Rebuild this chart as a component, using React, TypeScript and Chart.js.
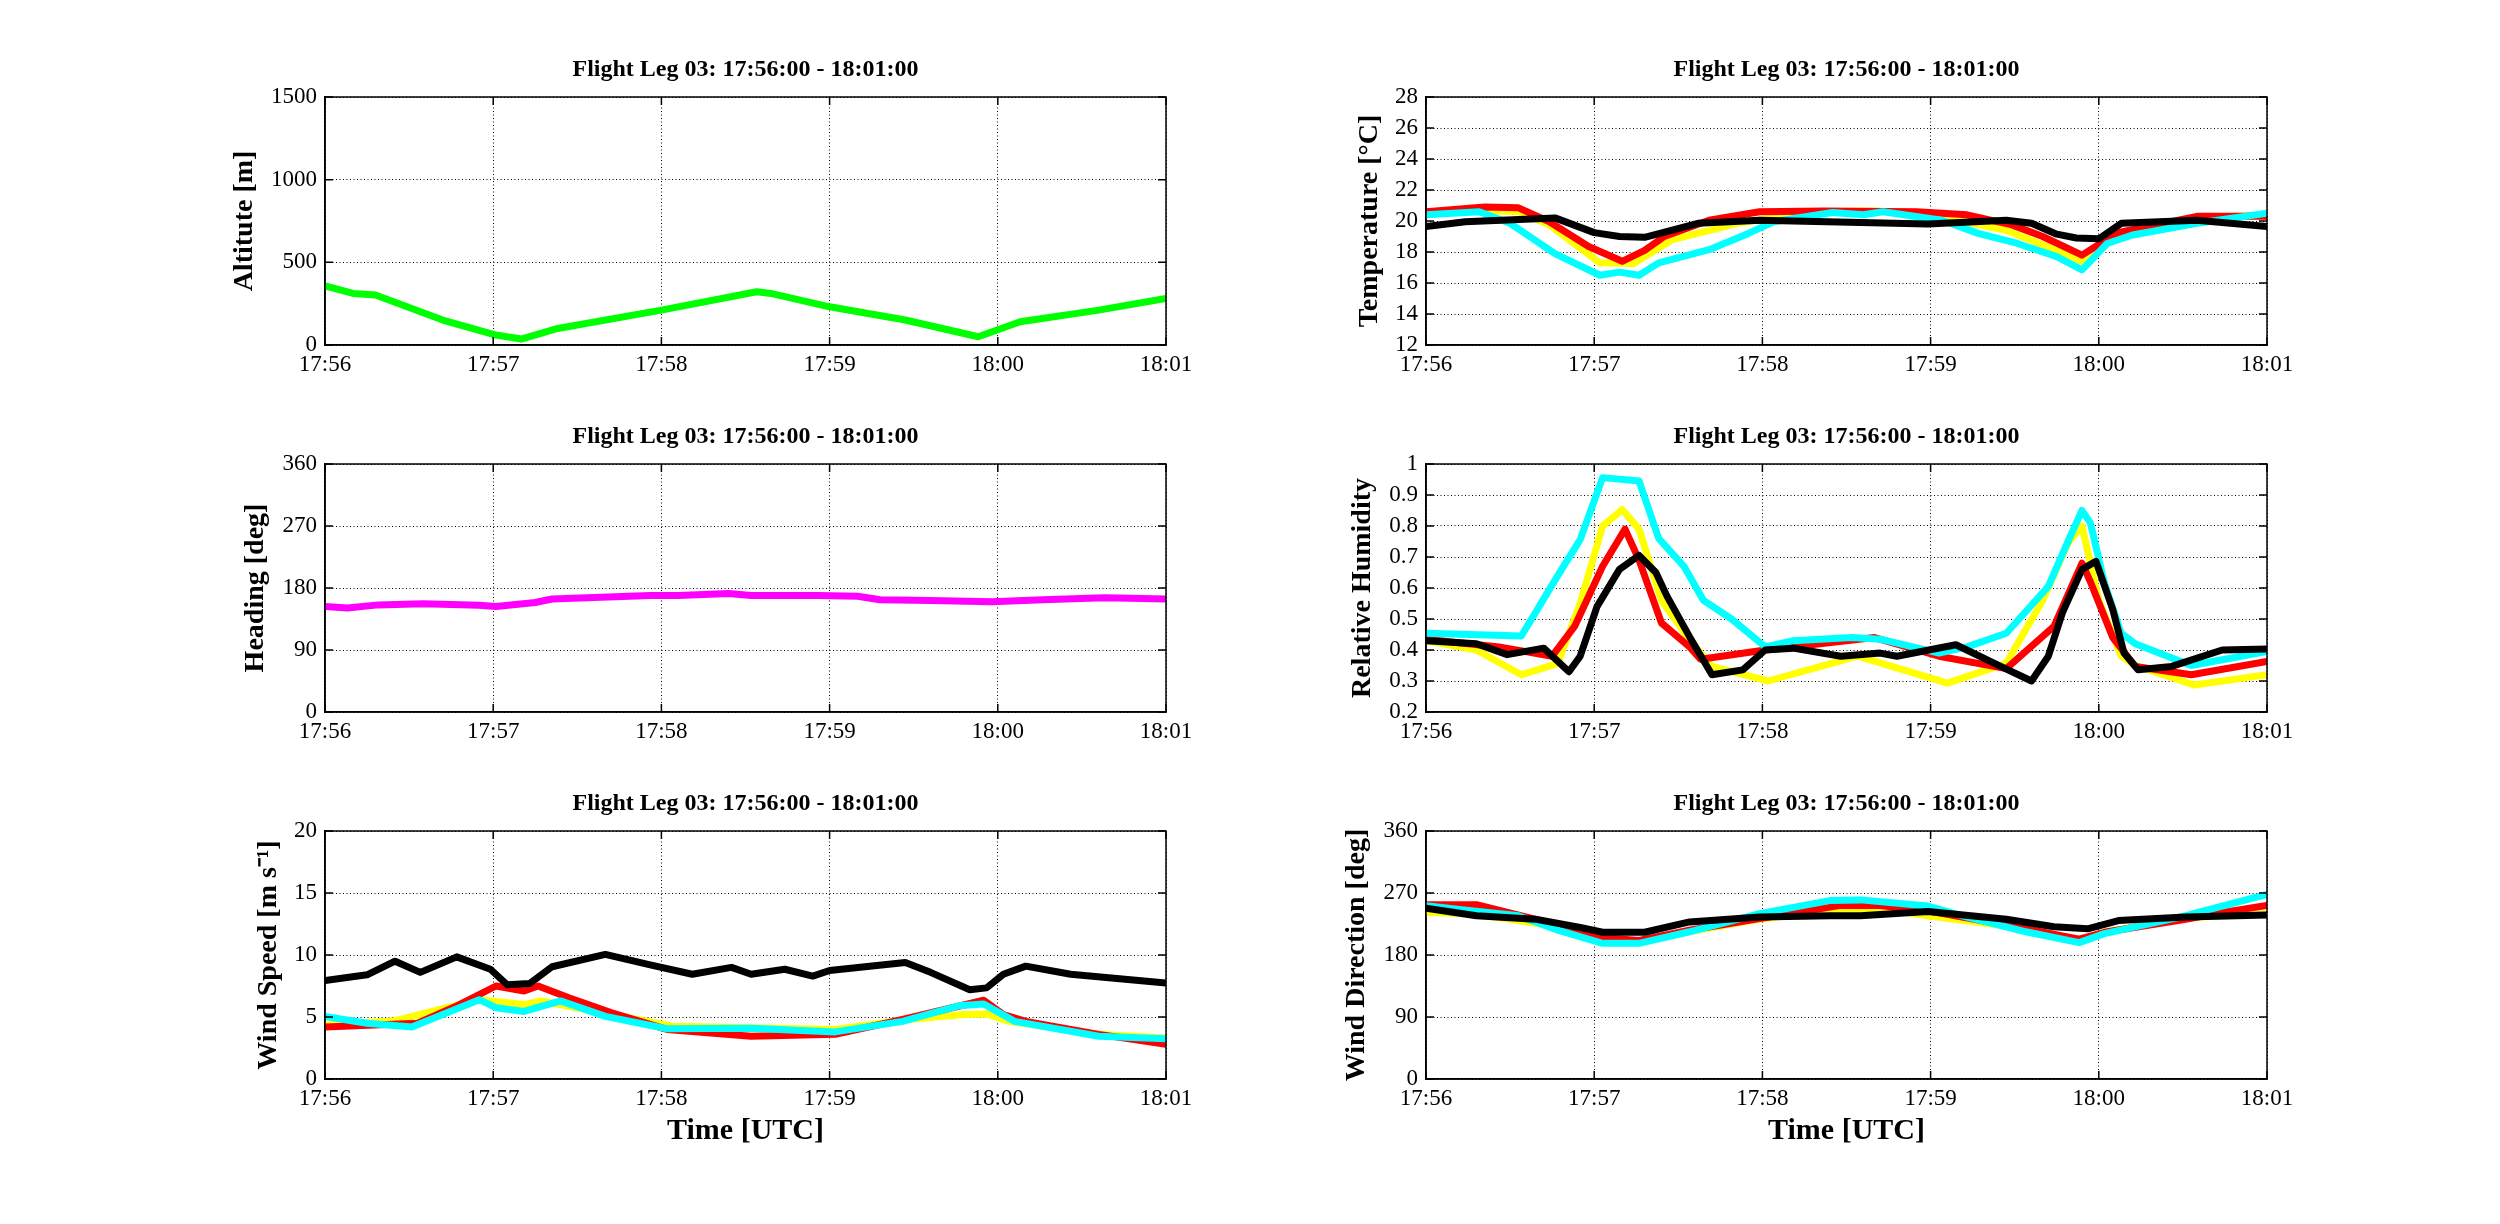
import React, { useRef, useEffect } from 'react'
import { Chart, registerables } from 'chart.js'

Chart.register(...registerables)

const FONT = "'Liberation Serif', 'Times New Roman', Times, serif"
const TITLE = 'Flight Leg 03: 17:56:00 - 18:01:00'
const timeLabels = ['17:56', '17:57', '17:58', '17:59', '18:00', '18:01']

// seconds after 17:56:00 and the value read at that moment

// altitude
const altT = [0, 10, 18, 42, 61, 70, 83, 120, 154, 159, 180, 207, 233, 248, 276, 300]
const altitude = [358, 312, 302, 151, 60, 36, 100, 211, 322, 312, 231, 151, 50, 141, 211, 282]

// heading
const hdgT = [0, 8, 19, 35, 55, 61, 75, 81, 116, 126, 144, 152, 176, 190, 198, 216, 238, 256, 278, 300]
const heading = [153, 151, 155.5, 157, 155, 153, 159, 164, 169, 169, 172, 169, 169, 168, 163, 162, 160, 163, 166, 164]

// temperature
const tRedT = [0, 21, 33, 44, 58, 70, 78, 85, 101, 119, 142, 175, 193, 209, 220, 234, 241, 248, 275, 300]
const tRed = [20.6, 20.9, 20.85, 19.95, 18.35, 17.4, 18.1, 19.0, 20.05, 20.6, 20.65, 20.6, 20.4, 19.75, 19.0, 17.8, 18.6, 19.3, 20.3, 20.3]
const tYelT = [0, 21, 33, 44, 62, 74, 88, 111, 138, 161, 184, 207, 225, 234, 243, 275, 300]
const tYel = [20.5, 20.7, 20.6, 19.75, 17.3, 17.25, 18.8, 19.85, 20.6, 20.65, 20.25, 19.4, 18.1, 17.4, 18.7, 20.2, 20.4]
const tCyaT = [0, 19, 30, 46, 62, 69, 76, 83, 101, 115, 124, 145, 156, 163, 184, 197, 211, 225, 234, 243, 252, 275, 300]
const tCya = [20.4, 20.6, 19.85, 17.9, 16.5, 16.7, 16.5, 17.3, 18.15, 19.2, 19.95, 20.55, 20.4, 20.6, 20.05, 19.2, 18.55, 17.7, 16.85, 18.55, 19.1, 19.85, 20.5]
const tBlkT = [0, 14, 46, 60, 69, 78, 97, 119, 179, 207, 216, 225, 232, 240, 248, 275, 300]
const tBlk = [19.65, 19.95, 20.2, 19.25, 19.0, 18.95, 19.85, 20.05, 19.8, 20.05, 19.85, 19.15, 18.9, 18.85, 19.85, 20.05, 19.65]

// relative humidity
const rhCyaT = [0, 34, 47, 55, 63, 76, 83, 92, 99, 109, 121, 131, 152, 162, 183, 193, 207, 222, 229, 234, 237, 242, 248, 253, 273, 300]
const rhCya = [0.454, 0.445, 0.64, 0.756, 0.956, 0.945, 0.76, 0.67, 0.56, 0.5, 0.41, 0.43, 0.44, 0.435, 0.39, 0.41, 0.454, 0.605, 0.75, 0.85, 0.81, 0.616, 0.454, 0.42, 0.35, 0.395]
const rhYelT = [0, 18, 34, 47, 55, 63, 70, 76, 84, 94, 102, 122, 154, 186, 207, 220, 229, 234, 240, 248, 253, 274, 300]
const rhYel = [0.43, 0.4, 0.32, 0.357, 0.55, 0.8, 0.853, 0.79, 0.56, 0.433, 0.347, 0.3, 0.38, 0.293, 0.357, 0.56, 0.745, 0.8, 0.56, 0.38, 0.35, 0.287, 0.32]
const rhRedT = [0, 26, 45, 53, 63, 71, 76, 84, 94, 98, 121, 160, 183, 207, 224, 234, 237, 245, 253, 273, 300]
const rhRed = [0.435, 0.41, 0.38, 0.476, 0.67, 0.79, 0.69, 0.487, 0.41, 0.37, 0.4, 0.44, 0.38, 0.34, 0.476, 0.68, 0.62, 0.44, 0.347, 0.32, 0.363]
const rhBlkT = [0, 18, 29, 42, 51, 55, 61, 69, 76, 82, 86, 94, 102, 113, 121, 131, 148, 162, 168, 189, 205, 216, 222, 227, 234, 239, 245, 249, 254, 266, 284, 300]
const rhBlk = [0.43, 0.42, 0.385, 0.406, 0.33, 0.38, 0.54, 0.66, 0.705, 0.65, 0.573, 0.443, 0.32, 0.336, 0.4, 0.406, 0.38, 0.39, 0.38, 0.417, 0.347, 0.3, 0.38, 0.52, 0.66, 0.686, 0.53, 0.39, 0.336, 0.347, 0.4, 0.403]

// wind speed
const wsBlkT = [0, 15, 25, 34, 47, 59, 65, 73, 81, 100, 116, 131, 145, 152, 164, 174, 180, 207, 216, 230, 236, 242, 250, 266, 300]
const wsBlk = [7.95, 8.4, 9.5, 8.6, 9.85, 8.85, 7.6, 7.7, 9.05, 10.05, 9.2, 8.45, 9.0, 8.45, 8.85, 8.3, 8.75, 9.4, 8.6, 7.2, 7.35, 8.45, 9.1, 8.45, 7.75]
const wsRedT = [0, 33, 47, 61, 71, 76, 87, 102, 122, 152, 182, 206, 235, 242, 250, 276, 300]
const wsRed = [4.2, 4.5, 5.9, 7.5, 7.1, 7.5, 6.55, 5.35, 4.0, 3.45, 3.6, 4.8, 6.35, 5.2, 4.65, 3.6, 2.8]
const wsYelT = [0, 25, 55, 71, 77, 102, 124, 182, 208, 228, 236, 244, 276, 300]
const wsYel = [4.35, 4.7, 6.4, 6.0, 6.3, 5.2, 4.25, 4.0, 4.8, 5.2, 5.25, 4.65, 3.6, 3.3]
const wsCyaT = [0, 15, 31, 55, 61, 71, 84, 100, 122, 152, 182, 206, 226, 235, 246, 276, 300]
const wsCya = [5.05, 4.5, 4.2, 6.4, 5.75, 5.45, 6.3, 5.05, 4.05, 4.1, 3.8, 4.65, 5.9, 6.05, 4.65, 3.45, 3.25]

// wind direction
const wdBlkT = [0, 18, 39, 55, 63, 78, 94, 119, 144, 155, 179, 207, 224, 236, 247, 271, 300]
const wdBlk = [248, 237, 232, 220, 213, 213, 228, 235, 237, 237, 243, 232, 221, 218, 230, 235, 238]
const wdCyaT = [0, 12, 33, 47, 63, 76, 94, 119, 144, 155, 179, 193, 214, 233, 242, 271, 300]
const wdCya = [251.6, 246, 237, 216, 197, 197, 213.7, 240, 259, 260, 251, 235, 213.7, 198, 211, 237, 268]
const wdRedT = [0, 18, 41, 63, 76, 94, 119, 148, 162, 179, 205, 233, 242, 271, 286, 300]
const wdRed = [253, 253, 230, 205, 201, 216, 233, 252, 252, 244, 225, 203, 213, 232, 243, 252]
const wdYelT = [0, 18, 41, 63, 76, 94, 119, 148, 162, 179, 205, 233, 242, 271, 300]
const wdYel = [242, 239, 225, 202, 200, 214, 232, 247, 247, 237, 223, 202, 213, 234, 240]

const RED = '#ff0000'
const YEL = '#ffff00'
const CYA = '#00ffff'
const BLK = '#000000'

type Series = { t: number[]; v: number[]; color: string }

type PanelProps = {
  left: number
  top: number
  label: string
  labelOffset: number
  yMin: number
  yMax: number
  yStep: number
  series: Series[]
  xTitle?: string
}

const PLOT_W = 841
const PLOT_H = 248
const Y_BOX = 140
const TITLE_BOX = 60
const RIGHT_PAD = 40

// box round the axes plus small inward tick marks, like matlab draws
const framePlugin = {
  id: 'frame',
  afterDraw(chart: any) {
    const { ctx, chartArea: a, scales } = chart
    const len = 8
    ctx.save()
    ctx.setLineDash([])
    ctx.strokeStyle = '#000'
    ctx.lineWidth = 1.5
    ctx.beginPath()
    scales.x.ticks.forEach((tk: any) => {
      const px = scales.x.getPixelForValue(tk.value)
      ctx.moveTo(px, a.bottom)
      ctx.lineTo(px, a.bottom - len)
      ctx.moveTo(px, a.top)
      ctx.lineTo(px, a.top + len)
    })
    scales.y.ticks.forEach((tk: any) => {
      const py = scales.y.getPixelForValue(tk.value)
      ctx.moveTo(a.left, py)
      ctx.lineTo(a.left + len, py)
      ctx.moveTo(a.right, py)
      ctx.lineTo(a.right - len, py)
    })
    ctx.stroke()
    ctx.strokeRect(a.left, a.top, a.right - a.left, a.bottom - a.top)
    ctx.restore()
  },
}

const numLabel = (v: any) => String(parseFloat(Number(v).toFixed(3)))

const Panel = ({ left, top, label, labelOffset, yMin, yMax, yStep, series, xTitle }: PanelProps) => {
  const ref = useRef<HTMLCanvasElement>(null)
  const xBox = xTitle ? 95 : 45
  const w = Y_BOX + PLOT_W + RIGHT_PAD
  const h = TITLE_BOX + PLOT_H + xBox

  useEffect(() => {
    if (!ref.current) return
    const tickFont = { family: FONT, size: 23 }
    const chart = new Chart(ref.current, {
      type: 'line',
      data: {
        datasets: series.map((s) => ({
          data: s.t.map((t, i) => ({ x: t, y: s.v[i] })),
          borderColor: s.color,
          backgroundColor: s.color,
          borderWidth: 7,
          borderJoinStyle: 'round',
          borderCapStyle: 'round',
          pointRadius: 0,
          tension: 0,
          fill: false,
        })),
      },
      options: {
        animation: false,
        responsive: false,
        events: [],
        layout: { padding: { left: 0, right: RIGHT_PAD, top: 0, bottom: 0 } },
        plugins: {
          legend: { display: false },
          tooltip: { enabled: false },
          title: {
            display: true,
            text: TITLE,
            fullSize: false,
            color: '#000',
            font: { family: FONT, size: 24, weight: 'bold', lineHeight: 1.2 },
            padding: { top: 18.6, bottom: 12.6 },
          },
        },
        scales: {
          x: {
            type: 'linear',
            min: 0,
            max: 300,
            afterFit: (s: any) => {
              s.height = xBox
            },
            ticks: {
              stepSize: 60,
              autoSkip: false,
              maxRotation: 0,
              padding: 6,
              color: '#000',
              font: tickFont,
              callback: (v: any) => timeLabels[Math.round(Number(v) / 60)],
            },
            grid: { color: '#000', lineWidth: 1, drawTicks: false },
            border: { display: true, color: '#000', width: 1.5, dash: [1, 2.5] },
            title: xTitle
              ? {
                  display: true,
                  text: xTitle,
                  color: '#000',
                  font: { family: FONT, size: 30, weight: 'bold', lineHeight: 1.2 },
                  padding: { top: 0, bottom: 25 },
                }
              : { display: false },
          },
          y: {
            type: 'linear',
            min: yMin,
            max: yMax,
            afterFit: (s: any) => {
              s.width = Y_BOX
            },
            ticks: {
              stepSize: yStep,
              autoSkip: false,
              padding: 8,
              color: '#000',
              font: tickFont,
              callback: numLabel,
            },
            grid: { color: '#000', lineWidth: 1, drawTicks: false },
            border: { display: true, color: '#000', width: 1.5, dash: [1, 2.5] },
            title: {
              display: true,
              text: label,
              color: '#000',
              font: { family: FONT, size: 28, weight: 'bold', lineHeight: 1.2 },
              padding: { top: Y_BOX - labelOffset - 16.8, bottom: 0 },
            },
          },
        },
      },
      plugins: [framePlugin],
    } as any)
    return () => {
      chart.destroy()
    }
  }, [])

  return (
    <canvas
      ref={ref}
      width={w}
      height={h}
      style={{ position: 'absolute', left: left - Y_BOX, top: top - TITLE_BOX, width: w, height: h }}
    />
  )
}

const COL = [325, 1426]
const ROW = [97, 464, 831]

export default function App() {
  return (
    <div style={{ position: 'absolute', left: 0, top: 0, width: 2500, height: 1224, background: '#fff', overflow: 'hidden' }}>
      <Panel
        left={COL[0]}
        top={ROW[0]}
        label="Altitute [m]"
        labelOffset={80}
        yMin={0}
        yMax={1500}
        yStep={500}
        series={[{ t: altT, v: altitude, color: '#00ff00' }]}
      />
      <Panel
        left={COL[1]}
        top={ROW[0]}
        label="Temperature [°C]"
        labelOffset={56}
        yMin={12}
        yMax={28}
        yStep={2}
        series={[
          { t: tBlkT, v: tBlk, color: BLK },
          { t: tCyaT, v: tCya, color: CYA },
          { t: tRedT, v: tRed, color: RED },
          { t: tYelT, v: tYel, color: YEL },
        ]}
      />
      <Panel
        left={COL[0]}
        top={ROW[1]}
        label="Heading [deg]"
        labelOffset={69}
        yMin={0}
        yMax={360}
        yStep={90}
        series={[{ t: hdgT, v: heading, color: '#ff00ff' }]}
      />
      <Panel
        left={COL[1]}
        top={ROW[1]}
        label="Relative Humidity"
        labelOffset={63}
        yMin={0.2}
        yMax={1}
        yStep={0.1}
        series={[
          { t: rhBlkT, v: rhBlk, color: BLK },
          { t: rhCyaT, v: rhCya, color: CYA },
          { t: rhRedT, v: rhRed, color: RED },
          { t: rhYelT, v: rhYel, color: YEL },
        ]}
      />
      <Panel
        left={COL[0]}
        top={ROW[2]}
        label="Wind Speed [m s⁻¹]"
        labelOffset={56}
        yMin={0}
        yMax={20}
        yStep={5}
        xTitle="Time [UTC]"
        series={[
          { t: wsBlkT, v: wsBlk, color: BLK },
          { t: wsCyaT, v: wsCya, color: CYA },
          { t: wsRedT, v: wsRed, color: RED },
          { t: wsYelT, v: wsYel, color: YEL },
        ]}
      />
      <Panel
        left={COL[1]}
        top={ROW[2]}
        label="Wind Direction [deg]"
        labelOffset={69}
        yMin={0}
        yMax={360}
        yStep={90}
        xTitle="Time [UTC]"
        series={[
          { t: wdBlkT, v: wdBlk, color: BLK },
          { t: wdCyaT, v: wdCya, color: CYA },
          { t: wdRedT, v: wdRed, color: RED },
          { t: wdYelT, v: wdYel, color: YEL },
        ]}
      />
    </div>
  )
}
